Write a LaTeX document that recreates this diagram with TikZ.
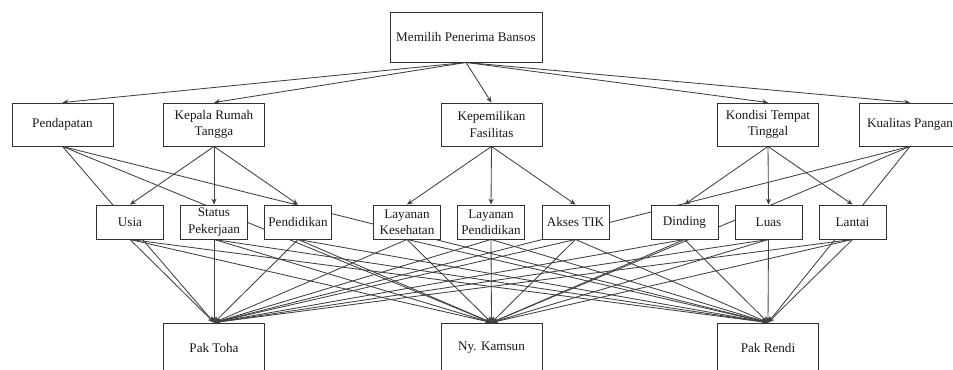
\documentclass[tikz,border=0pt]{standalone}
\usepackage{fontspec}
\setmainfont{Liberation Serif}
\usetikzlibrary{arrows.meta,backgrounds}
\definecolor{edgec}{RGB}{64,64,64}
\definecolor{boxc}{RGB}{50,50,50}
\definecolor{txtc}{RGB}{25,25,25}
\begin{document}
\begin{tikzpicture}[x=1bp,y=-1bp,
  box/.style={draw=boxc, fill=white, line width=0.9bp, align=center, inner sep=0pt,
    font=\fontsize{13.2}{16.5}\selectfont, text=txtc},
  goalbox/.style={box, minimum width=152bp, minimum height=50bp},
  critbox/.style={box, minimum width=101bp, minimum height=43bp},
  subbox/.style={box, minimum width=67bp, minimum height=34bp},
  altbox/.style={box, minimum width=101bp, minimum height=50bp},
  link/.style={draw=edgec, line width=0.85bp, -{Stealth[length=6bp,width=5bp]}}
]
\useasboundingbox (0,0) rectangle (953,369);

\node[goalbox] (goal) at (466,37) {Memilih Penerima Bansos};

\node[critbox] (pend) at (62.5,124.5) {Pendapatan};
\node[critbox] (kepala) at (214,124.5) {Kepala Rumah\\Tangga};
\node[critbox] (kepem) at (491.5,124.5) {Kepemilikan\\Fasilitas};
\node[critbox] (kondisi) at (768,124.5) {Kondisi Tempat\\Tinggal};
\node[critbox] (kualitas) at (910,124.5) {Kualitas Pangan};

\node[subbox] (usia) at (130,222) {Usia};
\node[subbox] (status) at (214,222) {Status\\Pekerjaan};
\node[subbox] (pendidikan) at (298,222) {Pendidikan};
\node[subbox] (laykes) at (407,222) {Layanan\\Kesehatan};
\node[subbox] (laypend) at (491,222) {Layanan\\Pendidikan};
\node[subbox] (akses) at (575.5,222) {Akses TIK};
\node[subbox] (dinding) at (684.5,222) {Dinding};
\node[subbox] (luas) at (768.5,222) {Luas};
\node[subbox] (lantai) at (852.5,222) {Lantai};

\node[altbox] (toha) at (214,348) {Pak Toha};
\node[altbox] (kamsun) at (491.5,348) {Ny. Kamsun};
\node[altbox] (rendi) at (768,348) {Pak Rendi};

\begin{pgfonlayer}{background}
  \foreach \c in {pend,kepala,kepem,kondisi,kualitas}
    \draw[link] (goal.south) -- (\c.north);
  \foreach \s in {usia,status,pendidikan}
    \draw[link] (kepala.south) -- (\s.north);
  \foreach \s in {laykes,laypend,akses}
    \draw[link] (kepem.south) -- (\s.north);
  \foreach \s in {dinding,luas,lantai}
    \draw[link] (kondisi.south) -- (\s.north);
  \foreach \s in {pend,kualitas}
    \foreach \a in {toha,kamsun,rendi}
      \draw[link] (\s.south) -- (\a.north);
  \foreach \s in {usia,status,pendidikan,laykes,laypend,akses,dinding,luas,lantai}
    \foreach \a in {toha,kamsun,rendi}
      \draw[link] (\s.south) -- (\a.north);
\end{pgfonlayer}
\end{tikzpicture}
\end{document}
